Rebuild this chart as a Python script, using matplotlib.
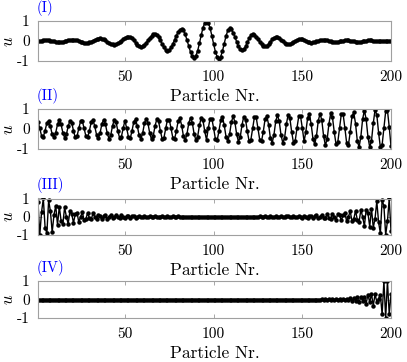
import matplotlib
matplotlib.use("Agg")
import matplotlib.pyplot as plt
import numpy as np

plt.rcParams['font.family'] = 'serif'
plt.rcParams['font.serif'] = ['cmr10']
plt.rcParams['mathtext.fontset'] = 'cm'
plt.rcParams['axes.formatter.use_mathtext'] = True

# panel (I): wave packet around particle ~96
u1 = [-0.01, 0.00, 0.02, 0.03, 0.04, 0.04,
      0.04, 0.02, 0.01, -0.02, -0.03, -0.05, -0.05,
      -0.05, -0.03, -0.01, 0.01, 0.03, 0.05, 0.07, 0.07,
      0.06, 0.04, 0.00, -0.03, -0.07, -0.09, -0.10,
      -0.09, -0.07, -0.03, 0.02, 0.06, 0.10, 0.12, 0.13,
      0.12, 0.09, 0.03, -0.03, -0.08, -0.14, -0.17, -0.18,
      -0.17, -0.12, -0.06, 0.02, 0.10, 0.16, 0.20, 0.22,
      0.20, 0.13, 0.03, -0.09, -0.19, -0.26, -0.28,
      -0.26, -0.19, -0.09, 0.04, 0.16, 0.26, 0.33, 0.35,
      0.31, 0.19, 0.03, -0.16, -0.32, -0.44, -0.48,
      -0.44, -0.32, -0.15, 0.06, 0.27, 0.44, 0.56, 0.60,
      0.53, 0.33, 0.04, -0.27, -0.56, -0.76, -0.83,
      -0.74, -0.49, -0.12, 0.29, 0.66, 0.91, 1.00,
      0.91, 0.65, 0.27, -0.15, -0.53, -0.79, -0.88,
      -0.78, -0.50, -0.13, 0.25, 0.53, 0.63,
      0.58, 0.42, 0.20, -0.04, -0.26, -0.42, -0.47,
      -0.42, -0.27, -0.07, 0.13, 0.28, 0.33,
      0.30, 0.22, 0.10, -0.04, -0.16, -0.24, -0.27,
      -0.24, -0.15, -0.04, 0.08, 0.17, 0.20,
      0.18, 0.13, 0.06, -0.01, -0.08, -0.13, -0.15,
      -0.14, -0.10, -0.05, 0.01, 0.06, 0.10, 0.11,
      0.10, 0.06, 0.02, -0.03, -0.07, -0.08,
      -0.07, -0.05, -0.02, 0.01, 0.04, 0.06, 0.07,
      0.06, 0.04, 0.01, -0.02, -0.04, -0.05,
      -0.05, -0.03, -0.02, 0.01, 0.02, 0.04, 0.04,
      0.03, 0.02, 0.00, -0.02, -0.03, -0.04,
      -0.04, -0.03, -0.01, 0.00, 0.02, 0.03, 0.03,
      0.03, 0.02, 0.01, -0.01, -0.02, -0.02,
      -0.02, -0.01, 0.00, 0.01, 0.02, 0.02]

# panel (II): extended mode, amplitude growing to the right
u2 = [0.37, 0.03, -0.34, -0.39, -0.08, 0.31, 0.41, 0.13, -0.27, -0.42,
      -0.18, 0.23, 0.43, 0.23, -0.18, -0.43, -0.27, 0.13, 0.42, 0.31,
      -0.08, -0.42, -0.36, 0.03, 0.39, 0.39, 0.03, -0.36, -0.42, -0.08,
      0.34, 0.45, 0.14, -0.29, -0.46, -0.20, 0.25, 0.46, 0.25, -0.20,
      -0.48, -0.31, 0.15, 0.47, 0.35, -0.09, -0.45, -0.39, 0.03, 0.42,
      0.03, -0.40, -0.47, -0.09, 0.36, 0.48, 0.15, -0.32, -0.50, -0.21,
      0.28, 0.52, 0.28, -0.22, -0.52, -0.33, 0.16, 0.50, 0.38, -0.10,
      -0.50, -0.44, 0.03, 0.47, 0.47, 0.03, -0.44, -0.50, -0.10, 0.39,
      0.54, 0.17, -0.36, -0.56, -0.24, 0.30, 0.56, 0.30, -0.24, -0.56,
      -0.38, 0.18, 0.57, 0.43, -0.11, -0.55, 0.04, 0.52, 0.52, 0.04,
      -0.49, -0.57, -0.11, 0.44, 0.59, 0.19, -0.39, -0.61, -0.26, 0.33,
      0.64, 0.34, -0.27, -0.63, -0.41, 0.20, 0.62, 0.47, -0.12, -0.60,
      -0.54, 0.04, 0.59, 0.59, 0.04, -0.54, -0.62, -0.13, 0.49, 0.65,
      0.22, -0.45, -0.69, -0.30, 0.38, 0.70, 0.38, -0.30, -0.69, -0.45,
      0.23, 0.71, 0.53, -0.14, -0.68, -0.59, 0.05, 0.64, 0.64, 0.05,
      -0.62, -0.14, 0.56, 0.75, 0.24, -0.49, -0.76, -0.33, 0.41, 0.77,
      0.43, -0.35, -0.80, -0.52, 0.25, 0.78, 0.59, -0.15, -0.75, -0.66,
      0.05, 0.75, 0.75, 0.05, -0.70, -0.80, -0.16, 0.63, 0.83, 0.27,
      -0.59, -0.91, -0.39, 0.49, 0.92, 0.49, -0.39, -0.91, -0.59, 0.28,
      0.95, 0.71, -0.18, -0.91, -0.79, 0.06, 0.88, 0.93, 0.10, -0.86]

# panel (III): modes localised at both ends
u3 = [0.80, -1.00, 0.25, 1.00, -0.60, -0.90, 0.90, 0.30, -0.85, 0.10, 0.60, -0.45,
      0.55, -0.21, -0.39, 0.51, 0.0, -0.39, 0.30, 0.16,
      -0.33, 0.13, 0.23, -0.30, 0.0, 0.24, -0.18, -0.10,
      0.20, -0.08, -0.14, 0.18, 0.0, -0.15, 0.11, 0.06,
      -0.13, 0.05, 0.09, -0.12, 0.0, 0.09, -0.07, -0.04,
      0.08, -0.03, -0.06, 0.07, 0.0, -0.06, 0.05, 0.02,
      -0.05, 0.02, 0.035, -0.046, 0.0, 0.037, -0.028, -0.015,
      0.035, -0.013, -0.025, 0.032, 0.0, -0.028, 0.021, 0.011,
      -0.025, 0.01, 0.018, -0.023, 0.0, 0.018, -0.014, -0.008,
      0.016, -0.006, -0.011, 0.015, 0.0, -0.012, 0.009, 0.005,
      -0.01, 0.004, 0.007, -0.009, 0.0, 0.008, -0.006, -0.003,
      0.007, -0.003, -0.005, 0.006, 0.0, -0.005, 0.004, 0.002,
      -0.002, -0.004, 0.005, 0.0, -0.006, 0.005, 0.003, -0.007, 0.003, 0.006,
      -0.008, 0.0, 0.009, -0.007, -0.004, 0.01, -0.005, -0.009, 0.012, 0.0,
      -0.015, 0.011, 0.006, -0.016, 0.008, 0.014, -0.018, 0.0, 0.023, -0.018,
      -0.01, 0.025, -0.011, -0.021, 0.028, 0.0, -0.032, 0.025, 0.013, -0.035,
      0.015, 0.028, -0.037, 0.0, 0.046, -0.035, -0.02, 0.05, -0.02, -0.05,
      0.06, 0.0, -0.07, 0.06, 0.03, -0.08, 0.04, 0.07, -0.09, 0.0,
      0.12, -0.09, -0.05, 0.13, -0.06, -0.11, 0.15, 0.0, -0.18, 0.14,
      0.08, -0.20, 0.10, 0.18, -0.24, 0.0, 0.30, -0.23, -0.13, 0.33,
      -0.16, -0.30, 0.39, 0.0, -0.51, 0.39, 0.21, -0.55, 0.45, -0.60,
      -0.10, 0.85, -0.30, -0.90, 0.90, 0.60, -1.00, -0.25, 1.00, -0.80]

# panel (IV): mode localised at the right end only
u4 = [0.0] * 160 + [
      0.01, -0.01, 0.01, -0.015, 0.015, -0.02, 0.02, -0.025, 0.025, -0.03,
      0.035, -0.03, 0.045, -0.05, 0.05, -0.045, 0.07, -0.08, 0.09, -0.06,
      0.11, -0.13, 0.12, -0.06, 0.16, -0.22, 0.27, -0.15, 0.30, -0.33,
      0.28, -0.12, 0.05, 0.25, -0.80, 1.00, -1.00, 1.00, -0.80, 0.28]

series = [u1, u2, u3, u4]
labels = ['(I)', '(II)', '(III)', '(IV)']
# axes boxes in pixels: top, bottom
boxes = [(21, 61), (109, 149), (198.5, 235), (281, 318)]

W, H = 407, 362
fig = plt.figure(figsize=(W / 100, H / 100), dpi=100)

for u, lab, (top, bot) in zip(series, labels, boxes):
    ax = fig.add_axes([38 / W, 1 - bot / H, 353 / W, (bot - top) / H])
    x = np.arange(1, len(u) + 1)
    ax.plot(x, u, '-o', color='black', lw=1.0, ms=2.2, mec='black', mfc='black')
    ax.set_xlim(1, 200)
    ax.set_ylim(-1, 1)
    ax.set_xticks([50, 100, 150, 200])
    ax.set_xticklabels(['50', '100', '150', '200'])
    ax.set_yticks([-1, 0, 1])
    ax.set_yticklabels(['-1', '0', '1'])
    ax.tick_params(direction='in', top=True, right=True, length=3, width=0.6,
                   color='#999999', labelsize=11)
    ax.tick_params(axis='x', pad=7)
    ax.tick_params(axis='y', pad=6)
    for s in ax.spines.values():
        s.set_color('#a0a0a0')
        s.set_linewidth(0.8)
    ax.set_xlabel('Particle Nr.', fontsize=12.5, labelpad=3)
    ax.set_ylabel('$u$', fontsize=12, rotation=90, va='center')
    ax.yaxis.set_label_coords(-0.084, 0.5)
    ax.annotate(lab, xy=(0, 1), xycoords='axes fraction', xytext=(-1, 5),
                textcoords='offset pixels', ha='left', va='bottom',
                color='blue', fontsize=10.5)

fig.savefig('out.png', dpi=100)
